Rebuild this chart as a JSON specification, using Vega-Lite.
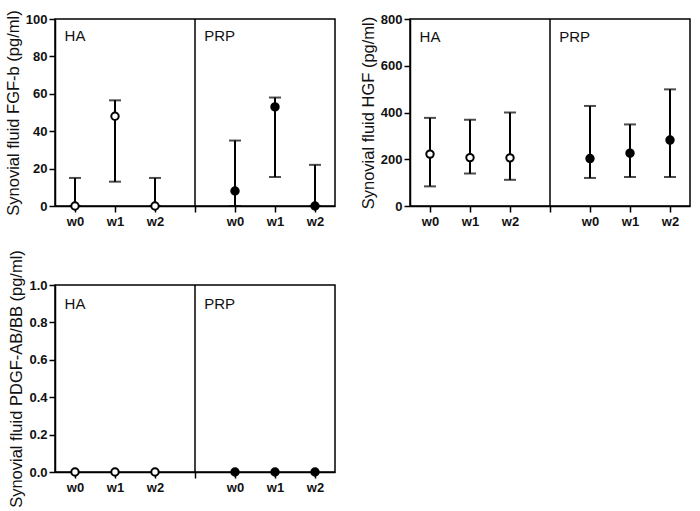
{
  "$schema": "https://vega.github.io/schema/vega-lite/v6.json",
  "background": "white",
  "padding": {"left": 4, "top": 9, "right": 5, "bottom": 5},
  "config": {
    "font": "Liberation Sans",
    "view": {"stroke": "black", "strokeWidth": 1.5},
    "axis": {
      "grid": false,
      "domainColor": "black",
      "domainWidth": 1.5,
      "tickColor": "black",
      "tickWidth": 1.5,
      "tickSize": 6,
      "labelOverlap": false,
      "labelFont": "Liberation Sans",
      "labelFontWeight": "bold",
      "labelFontSize": 13,
      "labelColor": "#111",
      "labelPadding": 2,
      "titleFont": "Liberation Sans",
      "titleFontWeight": "normal",
      "titleFontSize": 16.5,
      "titlePadding": 4,
      "titleColor": "#111"
    }
  },
  "columns": 2,
  "spacing": {"row": 19, "column": 23},
  "concat": [
    {
      "width": 280,
      "height": 187,
      "data": {"values": [
        {"group": "HA", "week": "w0", "key": "HA w0", "mean": 0, "lo": 0, "hi": 15},
        {"group": "HA", "week": "w1", "key": "HA w1", "mean": 48, "lo": 13, "hi": 56.5},
        {"group": "HA", "week": "w2", "key": "HA w2", "mean": 0, "lo": 0, "hi": 15},
        {"group": "PRP", "week": "w0", "key": "PRP w0", "mean": 8, "lo": 0, "hi": 35},
        {"group": "PRP", "week": "w1", "key": "PRP w1", "mean": 53, "lo": 15.5, "hi": 58},
        {"group": "PRP", "week": "w2", "key": "PRP w2", "mean": 0, "lo": 0, "hi": 22}
      ]},
      "encoding": {
        "x": {"field": "key", "type": "ordinal",
          "scale": {"type": "point", "domain": ["HA w0", "HA w1", "HA w2", "gap", "PRP w0", "PRP w1", "PRP w2"], "padding": 0.5},
          "axis": {"title": null, "labelAngle": 0, "labelPadding": 3, "labelExpr": "datum.value == 'gap' ? '' : slice(datum.value, -2)"}}
      },
      "layer": [
        {"mark": {"type": "point", "shape": "circle", "size": 55, "strokeWidth": 2, "stroke": "black", "opacity": 0},
          "encoding": {
            "y": {"field": "mean", "type": "quantitative", "scale": {"domain": [0, 100]}, "axis": {"values": [0, 20, 40, 60, 80, 100], "title": "Synovial fluid FGF-b (pg/ml)"}},
            "fill": {"field": "group", "type": "nominal", "scale": {"domain": ["HA", "PRP"], "range": ["white", "black"]}, "legend": null}
          }},
        {"data": {"values": [{}]}, "mark": {"type": "rule", "color": "black", "strokeWidth": 1.5}, "encoding": {"x": {"datum": "gap", "type": "ordinal"}}},
        {"data": {"values": [{}]}, "mark": {"type": "text", "align": "center", "baseline": "middle", "fontSize": 15, "color": "#111"}, "encoding": {"x": {"datum": "HA w0", "type": "ordinal"}, "y": {"datum": 91, "type": "quantitative", "axis": {"values": [0, 20, 40, 60, 80, 100], "title": "Synovial fluid FGF-b (pg/ml)"}}, "text": {"value": "HA"}}},
        {"data": {"values": [{}]}, "mark": {"type": "text", "align": "right", "baseline": "middle", "fontSize": 15, "color": "#111"}, "encoding": {"x": {"datum": "PRP w0", "type": "ordinal"}, "y": {"datum": 91, "type": "quantitative", "axis": {"values": [0, 20, 40, 60, 80, 100], "title": "Synovial fluid FGF-b (pg/ml)"}}, "text": {"value": "PRP"}}},
        {"transform": [{"filter": "datum.hi > datum.lo"}], "mark": {"type": "rule", "color": "black", "strokeWidth": 2}, "encoding": {"y": {"field": "lo", "type": "quantitative", "axis": {"values": [0, 20, 40, 60, 80, 100], "title": "Synovial fluid FGF-b (pg/ml)"}}, "y2": {"field": "hi"}}},
        {"transform": [{"filter": "datum.hi > datum.lo"}], "mark": {"type": "tick", "color": "black", "size": 12, "thickness": 2}, "encoding": {"y": {"field": "hi", "type": "quantitative", "axis": {"values": [0, 20, 40, 60, 80, 100], "title": "Synovial fluid FGF-b (pg/ml)"}}}},
        {"transform": [{"filter": "datum.hi > datum.lo"}], "mark": {"type": "tick", "color": "black", "size": 12, "thickness": 2}, "encoding": {"y": {"field": "lo", "type": "quantitative", "axis": {"values": [0, 20, 40, 60, 80, 100], "title": "Synovial fluid FGF-b (pg/ml)"}}}},
        {"mark": {"type": "point", "shape": "circle", "size": 55, "strokeWidth": 2, "stroke": "black", "opacity": 1},
          "encoding": {
            "y": {"field": "mean", "type": "quantitative", "axis": {"values": [0, 20, 40, 60, 80, 100], "title": "Synovial fluid FGF-b (pg/ml)"}},
            "fill": {"field": "group", "type": "nominal", "legend": null}
          }}
      ]
    },
    {
      "width": 280,
      "height": 187,
      "data": {"values": [
        {"group": "HA", "week": "w0", "key": "HA w0", "mean": 222, "lo": 84, "hi": 377},
        {"group": "HA", "week": "w1", "key": "HA w1", "mean": 207, "lo": 139, "hi": 369},
        {"group": "HA", "week": "w2", "key": "HA w2", "mean": 206, "lo": 112, "hi": 400},
        {"group": "PRP", "week": "w0", "key": "PRP w0", "mean": 203, "lo": 120, "hi": 428},
        {"group": "PRP", "week": "w1", "key": "PRP w1", "mean": 226, "lo": 124, "hi": 349},
        {"group": "PRP", "week": "w2", "key": "PRP w2", "mean": 282, "lo": 124, "hi": 499}
      ]},
      "encoding": {
        "x": {"field": "key", "type": "ordinal",
          "scale": {"type": "point", "domain": ["HA w0", "HA w1", "HA w2", "gap", "PRP w0", "PRP w1", "PRP w2"], "padding": 0.5},
          "axis": {"title": null, "labelAngle": 0, "labelPadding": 3, "labelExpr": "datum.value == 'gap' ? '' : slice(datum.value, -2)"}}
      },
      "layer": [
        {"mark": {"type": "point", "shape": "circle", "size": 55, "strokeWidth": 2, "stroke": "black", "opacity": 0},
          "encoding": {
            "y": {"field": "mean", "type": "quantitative", "scale": {"domain": [0, 800]}, "axis": {"values": [0, 200, 400, 600, 800], "title": "Synovial fluid HGF (pg/ml)"}},
            "fill": {"field": "group", "type": "nominal", "scale": {"domain": ["HA", "PRP"], "range": ["white", "black"]}, "legend": null}
          }},
        {"data": {"values": [{}]}, "mark": {"type": "rule", "color": "black", "strokeWidth": 1.5}, "encoding": {"x": {"datum": "gap", "type": "ordinal"}}},
        {"data": {"values": [{}]}, "mark": {"type": "text", "align": "center", "baseline": "middle", "fontSize": 15, "color": "#111"}, "encoding": {"x": {"datum": "HA w0", "type": "ordinal"}, "y": {"datum": 722, "type": "quantitative", "axis": {"values": [0, 200, 400, 600, 800], "title": "Synovial fluid HGF (pg/ml)"}}, "text": {"value": "HA"}}},
        {"data": {"values": [{}]}, "mark": {"type": "text", "align": "right", "baseline": "middle", "fontSize": 15, "color": "#111"}, "encoding": {"x": {"datum": "PRP w0", "type": "ordinal"}, "y": {"datum": 722, "type": "quantitative", "axis": {"values": [0, 200, 400, 600, 800], "title": "Synovial fluid HGF (pg/ml)"}}, "text": {"value": "PRP"}}},
        {"transform": [{"filter": "datum.hi > datum.lo"}], "mark": {"type": "rule", "color": "black", "strokeWidth": 2}, "encoding": {"y": {"field": "lo", "type": "quantitative", "axis": {"values": [0, 200, 400, 600, 800], "title": "Synovial fluid HGF (pg/ml)"}}, "y2": {"field": "hi"}}},
        {"transform": [{"filter": "datum.hi > datum.lo"}], "mark": {"type": "tick", "color": "black", "size": 12, "thickness": 2}, "encoding": {"y": {"field": "hi", "type": "quantitative", "axis": {"values": [0, 200, 400, 600, 800], "title": "Synovial fluid HGF (pg/ml)"}}}},
        {"transform": [{"filter": "datum.hi > datum.lo"}], "mark": {"type": "tick", "color": "black", "size": 12, "thickness": 2}, "encoding": {"y": {"field": "lo", "type": "quantitative", "axis": {"values": [0, 200, 400, 600, 800], "title": "Synovial fluid HGF (pg/ml)"}}}},
        {"mark": {"type": "point", "shape": "circle", "size": 55, "strokeWidth": 2, "stroke": "black", "opacity": 1},
          "encoding": {
            "y": {"field": "mean", "type": "quantitative", "axis": {"values": [0, 200, 400, 600, 800], "title": "Synovial fluid HGF (pg/ml)"}},
            "fill": {"field": "group", "type": "nominal", "legend": null}
          }}
      ]
    },
    {
      "width": 280,
      "height": 187,
      "data": {"values": [
        {"group": "HA", "week": "w0", "key": "HA w0", "mean": 0, "lo": 0, "hi": 0},
        {"group": "HA", "week": "w1", "key": "HA w1", "mean": 0, "lo": 0, "hi": 0},
        {"group": "HA", "week": "w2", "key": "HA w2", "mean": 0, "lo": 0, "hi": 0},
        {"group": "PRP", "week": "w0", "key": "PRP w0", "mean": 0, "lo": 0, "hi": 0},
        {"group": "PRP", "week": "w1", "key": "PRP w1", "mean": 0, "lo": 0, "hi": 0},
        {"group": "PRP", "week": "w2", "key": "PRP w2", "mean": 0, "lo": 0, "hi": 0}
      ]},
      "encoding": {
        "x": {"field": "key", "type": "ordinal",
          "scale": {"type": "point", "domain": ["HA w0", "HA w1", "HA w2", "gap", "PRP w0", "PRP w1", "PRP w2"], "padding": 0.5},
          "axis": {"title": null, "labelAngle": 0, "labelPadding": 3, "labelExpr": "datum.value == 'gap' ? '' : slice(datum.value, -2)"}}
      },
      "layer": [
        {"data": {"values": [{}]}, "mark": {"type": "rule", "color": "black", "strokeWidth": 1.5}, "encoding": {"x": {"datum": "gap", "type": "ordinal"}}},
        {"data": {"values": [{}]}, "mark": {"type": "text", "align": "center", "baseline": "middle", "fontSize": 15, "color": "#111"}, "encoding": {"x": {"datum": "HA w0", "type": "ordinal"}, "y": {"datum": 0.9, "type": "quantitative", "scale": {"domain": [0, 1]}, "axis": {"values": [0, 0.2, 0.4, 0.6, 0.8, 1.0], "format": ".1f", "title": "Synovial fluid PDGF-AB/BB (pg/ml)"}}, "text": {"value": "HA"}}},
        {"data": {"values": [{}]}, "mark": {"type": "text", "align": "right", "baseline": "middle", "fontSize": 15, "color": "#111"}, "encoding": {"x": {"datum": "PRP w0", "type": "ordinal"}, "y": {"datum": 0.9, "type": "quantitative", "axis": {"values": [0, 0.2, 0.4, 0.6, 0.8, 1.0], "format": ".1f", "title": "Synovial fluid PDGF-AB/BB (pg/ml)"}}, "text": {"value": "PRP"}}},
        {"mark": {"type": "point", "shape": "circle", "size": 55, "strokeWidth": 2, "stroke": "black", "opacity": 1},
          "encoding": {
            "y": {"field": "mean", "type": "quantitative", "axis": {"values": [0, 0.2, 0.4, 0.6, 0.8, 1.0], "format": ".1f", "title": "Synovial fluid PDGF-AB/BB (pg/ml)"}},
            "fill": {"field": "group", "type": "nominal", "scale": {"domain": ["HA", "PRP"], "range": ["white", "black"]}, "legend": null}
          }}
      ]
    }
  ]
}
